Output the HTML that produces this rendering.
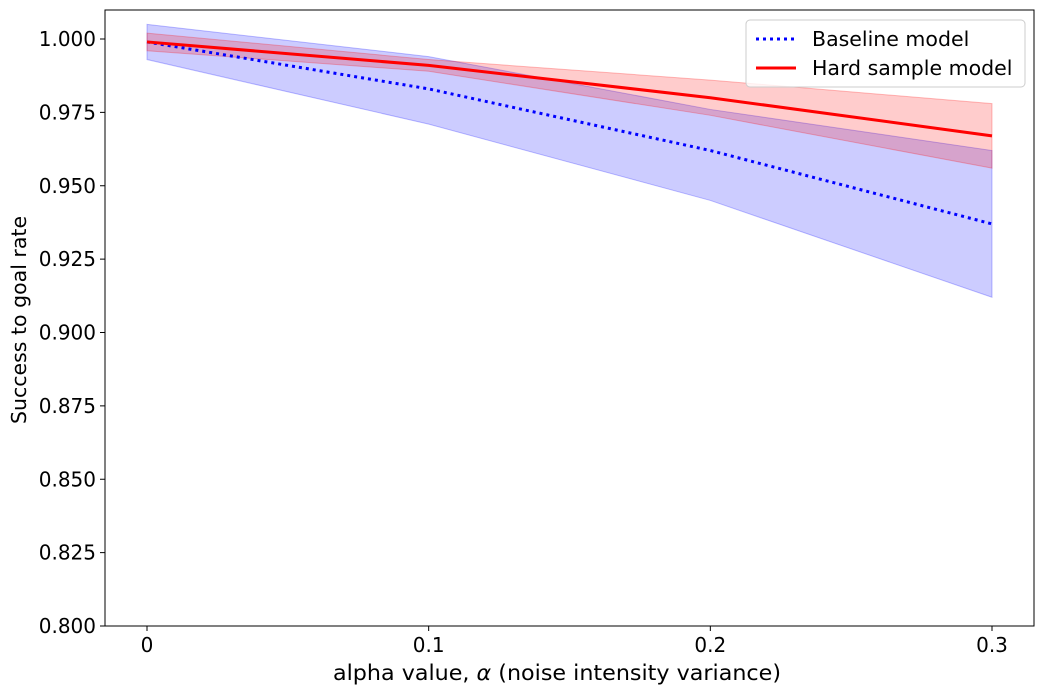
<!DOCTYPE html>
<html><head><meta charset="utf-8"><style>body{margin:0;background:#fff}svg{font-family:"DejaVu Sans",sans-serif}</style></head>
<body>
<svg id="c" width="1045" height="695"></svg>
<script>
const xVals=[0,0.1,0.2,0.3];
const xTicks=["0","0.1","0.2","0.3"];
const yTicks=[0.800,0.825,0.850,0.875,0.900,0.925,0.950,0.975,1.000];
const baseMean=[0.999,0.983,0.962,0.937];
const baseUpper=[1.005,0.994,0.976,0.962];
const baseLower=[0.993,0.971,0.945,0.912];
const hardMean=[0.999,0.991,0.980,0.967];
const hardUpper=[1.002,0.993,0.986,0.978];
const hardLower=[0.996,0.989,0.974,0.956];
const NS="http://www.w3.org/2000/svg",svg=document.getElementById('c');
const L=105,R=1034,T=10,B=626;
const xs=v=>147+v/0.3*(992-147);
const ys=v=>626-(v-0.8)/0.2*(626-39);
function mk(t,a,p){const e=document.createElementNS(NS,t);for(const k in a)e.setAttribute(k,a[k]);(p||svg).appendChild(e);return e;}
function band(u,l,col,name){const pts=xVals.map((x,i)=>xs(x)+','+ys(u[i])).concat(xVals.map((x,i)=>[x,i]).reverse().map(([x,i])=>xs(x)+','+ys(l[i])));
const e=mk('polygon',{points:pts.join(' '),fill:col,'fill-opacity':0.2,stroke:col,'stroke-opacity':0.25});
}
function line(m,col,dash,name){const e=mk('polyline',{points:xVals.map((x,i)=>xs(x)+','+ys(m[i])).join(' '),fill:'none',stroke:col,'stroke-width':3});
if(dash)e.setAttribute('stroke-dasharray',dash);
}
band(baseUpper,baseLower,'#0000ff','baseline-band');
band(hardUpper,hardLower,'#ff0000','hard-sample-band');
line(baseMean,'#0000ff','3,4','baseline-line');
line(hardMean,'#ff0000',null,'hard-sample-line');
const fr=mk('rect',{x:L,y:T,width:R-L,height:B-T,fill:'none',stroke:'#000','stroke-width':1});

xVals.forEach((x,i)=>{mk('line',{x1:xs(x),x2:xs(x),y1:B,y2:B+5,stroke:'#000'});
const t=mk('text',{x:xs(x),y:B+26,'text-anchor':'middle','font-size':20});t.textContent=xTicks[i];
});
yTicks.forEach(v=>{mk('line',{x1:L-5,x2:L,y1:ys(v),y2:ys(v),stroke:'#000'});
const t=mk('text',{x:L-9,y:ys(v)+7,'text-anchor':'end','font-size':20});t.textContent=v.toFixed(3);
});
</script>
<svg width="1045" height="695" style="position:absolute;left:0;top:0">
<text x="557" y="680" text-anchor="middle" font-size="21" textLength="448" lengthAdjust="spacingAndGlyphs">alpha value, <tspan font-style="italic">α</tspan> (noise intensity variance)</text>
<text transform="translate(26,320) rotate(-90)" text-anchor="middle" font-size="20.5">Success to goal rate</text>
<g>
<rect x="746" y="20" width="279" height="67" rx="4" fill="#fff" fill-opacity="0.8" stroke="#ccc"/>
<line x1="756" y1="39" x2="796" y2="39" stroke="#0000ff" stroke-width="3" stroke-dasharray="3,4"/>
<text x="812" y="46" font-size="20.5">Baseline model</text>
<line x1="756" y1="68" x2="796" y2="68" stroke="#ff0000" stroke-width="3"/>
<text x="812" y="75" font-size="20.5">Hard sample model</text>
</g>
</svg>
</body></html>
